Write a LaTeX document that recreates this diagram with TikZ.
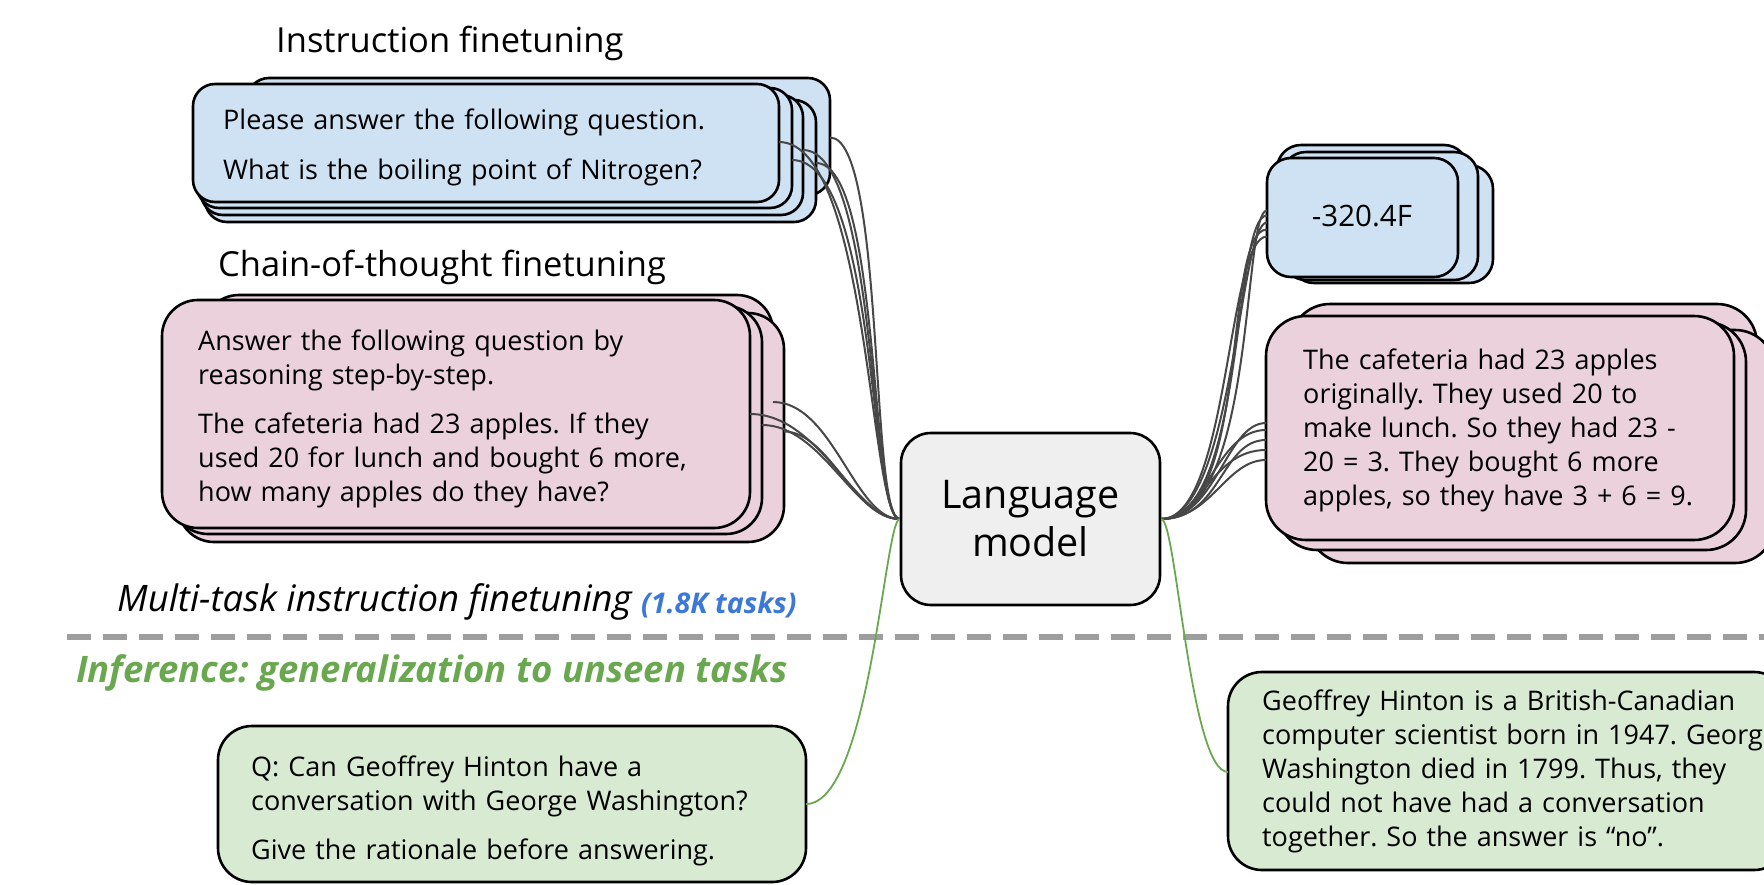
\documentclass[tikz,border=0pt]{standalone}
\usepackage{fontspec}
\setmainfont{Open Sans}
\usetikzlibrary{calc}
\definecolor{iblue}{HTML}{CFE2F3}
\definecolor{cpink}{HTML}{EAD1DC}
\definecolor{ggreen}{HTML}{D9EAD3}
\definecolor{lmgray}{HTML}{EFEFEF}
\definecolor{wirec}{HTML}{474747}
\definecolor{gline}{HTML}{6AA84F}
\definecolor{btext}{HTML}{3C78D8}
\definecolor{dashgray}{HTML}{9E9E9E}
\tikzset{
  card/.style={draw=black, line width=2.6pt, inner sep=0pt, outer sep=0pt, anchor=north west},
  body/.style={font=\fontsize{27}{34.2}\selectfont, inner sep=0pt, anchor=base west, align=left, text width=600pt},
  ttl/.style={font=\fontsize{34.5}{38}\selectfont, inner sep=0pt, anchor=base west},
  wire/.style={draw=wirec, line width=2pt},
  gwire/.style={draw=gline, line width=1.8pt},
}
\begin{document}
\frenchspacing
\begin{tikzpicture}[x=1pt,y=-1pt]
\useasboundingbox (0,0) rectangle (1764,884);
\clip (0,0) rectangle (1764,884);

% ---- instruction finetuning stack
\node[ttl] (tinst) at (276,52) {Instruction finetuning};
\node[card, fill=iblue, rounded corners=22pt, minimum width=583pt, minimum height=117pt] (iback) at (247,78) {};
\node[card, fill=iblue, rounded corners=22pt, minimum width=611pt, minimum height=122pt] (ic3) at (205,100) {};
\node[card, fill=iblue, rounded corners=22pt, minimum width=602pt, minimum height=120pt] (ic2) at (201,95) {};
\node[card, fill=iblue, rounded corners=22pt, minimum width=595pt, minimum height=120pt] (ic1) at (197,88) {};
\node[card, fill=iblue, rounded corners=22pt, minimum width=586pt, minimum height=118pt] (ifr) at (193,84) {};
\node[body] (itext) at (223,129) {Please answer the following question.\\[16pt]What is the boiling point of Nitrogen?};

% ---- chain-of-thought stack
\node[ttl] (tcot) at (218,276) {Chain-of-thought finetuning};
\node[card, fill=cpink, rounded corners=36pt, minimum width=570pt, minimum height=210pt] (cback) at (203,295) {};
\node[card, fill=cpink, rounded corners=36pt, minimum width=606pt, minimum height=229pt] (cc2) at (178,313) {};
\node[card, fill=cpink, rounded corners=36pt, minimum width=590pt, minimum height=228pt] (cc1) at (172,306) {};
\node[card, fill=cpink, rounded corners=36pt, minimum width=588pt, minimum height=228pt] (cfr) at (162,300) {};
\node[body] (ctext) at (198,350) {Answer the following question by\\reasoning step-by-step.\\[15pt]The cafeteria had 23 apples. If they\\used 20 for lunch and bought 6 more,\\how many apples do they have?};

% ---- section labels and divider
\node[ttl, font=\fontsize{36.5}{40}\selectfont\itshape] (tmulti) at (117,611) {Multi-task instruction finetuning};
\node[ttl, font=\fontsize{28.5}{32}\selectfont\bfseries\itshape, text=btext, anchor=base west] (ttasks) at ([xshift=9pt,yshift=-2pt]tmulti.base east) {(1.8K tasks)};
\draw[draw=dashgray, line width=6pt, dash pattern=on 24pt off 12pt] (67,637) -- (1764,637);
\node[ttl, font=\fontsize{36.5}{40}\selectfont\bfseries\itshape, text=gline] (tinf) at (76,682) {Inference: generalization to unseen tasks};

% ---- inference query
\node[card, fill=ggreen, rounded corners=34pt, minimum width=588pt, minimum height=156pt] (gq) at (218,726) {};
\node[body] (gqtext) at (251,776) {Q: Can Geoffrey Hinton have a\\conversation with George Washington?\\[15pt]Give the rationale before answering.};

% ---- language model
\node[draw=black, line width=2.6pt, fill=lmgray, rounded corners=30pt, minimum width=259pt, minimum height=172pt, inner sep=0pt, align=center, font=\fontsize{39.5}{48}\selectfont] (lm) at (1030.5,519) {Language\\model};

% ---- answer stacks
\node[card, fill=iblue, rounded corners=24pt, minimum width=191pt, minimum height=117pt] (aback) at (1277,145) {};
\node[card, fill=iblue, rounded corners=24pt, minimum width=203pt, minimum height=118pt] (ac3) at (1290,165) {};
\node[card, fill=iblue, rounded corners=24pt, minimum width=196pt, minimum height=128pt] (ac2) at (1282,152) {};
\node[card, fill=iblue, rounded corners=24pt, minimum width=191pt, minimum height=119pt] (afr) at (1267,158) {};
\node[font=\fontsize{29.5}{34}\selectfont, inner sep=0pt] (atext) at (1362,216) {-320.4F};

\node[card, fill=cpink, rounded corners=40pt, minimum width=467pt, minimum height=226pt] (pback) at (1290,304) {};
\node[card, fill=cpink, rounded corners=40pt, minimum width=467pt, minimum height=233pt] (pc3) at (1308,330) {};
\node[card, fill=cpink, rounded corners=40pt, minimum width=469pt, minimum height=228pt] (pc2) at (1277,322) {};
\node[card, fill=cpink, rounded corners=40pt, minimum width=468pt, minimum height=224pt] (pfr) at (1266,316) {};
\node[body] (ptext) at (1303,369) {The cafeteria had 23 apples\\originally. They used 20 to\\make lunch. So they had 23 -\\20 = 3. They bought 6 more\\apples, so they have 3 + 6 = 9.};

\node[card, fill=ggreen, rounded corners=34pt, minimum width=560pt, minimum height=198pt] (ga) at (1228,672) {};
\node[body] (gatext) at (1262,710) {Geoffrey Hinton is a British-Canadian\\computer scientist born in 1947. George\\Washington died in 1799. Thus, they\\could not have had a conversation\\together. So the answer is “no”.};

% ---- connectors: instruction -> LM
\draw[wire] ([yshift=1pt]ifr.east) .. controls +(90,0) and +(-30,0) .. (lm.west);
\draw[wire] ([yshift=-12pt]ic1.east) .. controls +(85,0) and +(-30,0) .. (lm.west);
\draw[wire] ([yshift=5pt]ic2.east) .. controls +(75,0) and +(-30,0) .. (lm.west);
\draw[wire] ([yshift=-2pt]ic3.east) .. controls +(65,0) and +(-30,0) .. (lm.west);
\draw[wire] ([yshift=-1pt]iback.east) .. controls +(55,0) and +(-30,0) .. (lm.west);
% ---- connectors: CoT -> LM
\draw[wire] (cfr.east) .. controls +(70,0) and +(-45,0) .. (lm.west);
\draw[wire] ([yshift=-5pt]cc1.east) .. controls +(60,0) and +(-45,0) .. (lm.west);
\draw[wire] ([yshift=-2pt]cback.east) .. controls +(60,0) and +(-45,0) .. (lm.west);
\draw[wire] ([yshift=-4pt]cc2.east) .. controls +(45,0) and +(-45,0) .. (lm.west);
% ---- connectors: LM -> answers
\foreach \s/\a/\b in {7/95/25, 2/85/35, -5/72/28, -12/90/45, -19/68/40}
  \draw[wire] (lm.east) .. controls +(\a,0) and +(-\b,0) .. ([yshift=\s pt]afr.west);
\foreach \s/\a/\b in {5/55/40, -2/45/50, -12/60/45, -22/40/55, -32/50/40}
  \draw[wire] (lm.east) .. controls +(\a,0) and +(-\b,0) .. ([yshift=\s pt]pfr.west);
% ---- inference connectors
\draw[gwire] (lm.west) .. controls +(-15,0) and +(64,0) .. (gq.east);
\draw[gwire] (lm.east) .. controls +(15,0) and +(-38,0) .. ([yshift=-1pt]ga.west);
\end{tikzpicture}
\end{document}
